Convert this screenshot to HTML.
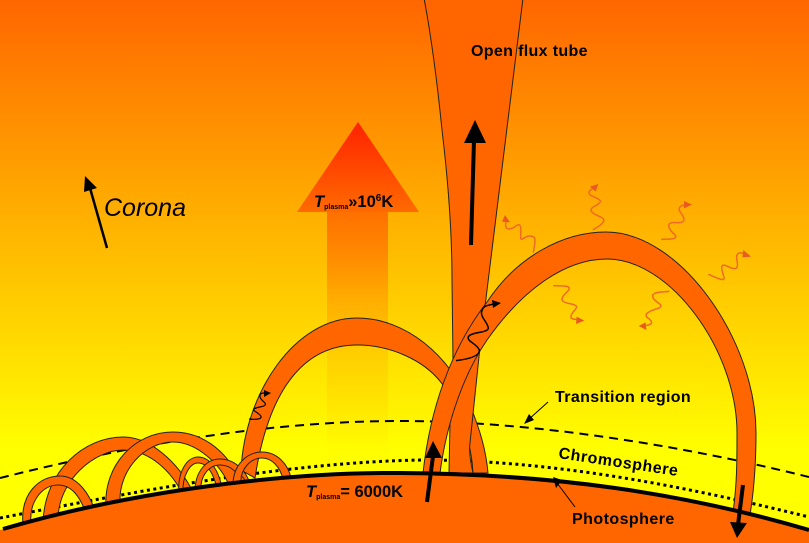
<!DOCTYPE html>
<html><head><meta charset="utf-8"><style>html,body{margin:0;padding:0;background:#ff0}svg{display:block}text{font-family:"Liberation Sans",sans-serif;font-weight:bold;fill:#000}</style></head><body>
<svg width="809" height="543" viewBox="0 0 809 543" xmlns="http://www.w3.org/2000/svg">
<defs>
<linearGradient id="bg" gradientUnits="userSpaceOnUse" x1="0" y1="0" x2="0" y2="450"><stop offset="0" stop-color="#ff6600"/><stop offset="1" stop-color="#ffff00"/></linearGradient>
<linearGradient id="head" x1="0" y1="0" x2="0" y2="1"><stop offset="0" stop-color="#ff2200"/><stop offset="1" stop-color="#ff6a00"/></linearGradient>
<linearGradient id="shaft" x1="0" y1="0" x2="0" y2="1"><stop offset="0" stop-color="#ff6600" stop-opacity=".85"/><stop offset="0.35" stop-color="#ff6600" stop-opacity=".3"/><stop offset="0.55" stop-color="#ff6600" stop-opacity=".14"/><stop offset="1" stop-color="#ff6600" stop-opacity="0"/></linearGradient>
</defs>
<rect width="809" height="543" fill="url(#bg)"/>
<rect x="327" y="212" width="61" height="250" fill="url(#shaft)"/>
<polygon points="358,122 297,212 419,212" fill="url(#head)"/>
<g fill="none" stroke="#000">
<path d="M0 478 C120 448 260 421 400 421 C530 421 680 445 809 477" stroke-width="2" stroke-dasharray="9 6"/>
<path d="M0 518 C120 495 280 462 423 460 C560 460 700 490 809 517" stroke-width="3" stroke-dasharray="3 3.5"/>
</g>
<g fill="#ff6600" stroke="#222" stroke-width="1">
<!-- small loops -->
<path d="M43 522 C45 470 85 437 123 437 C150 437 178 462 193 492 L183 495 C172 472 150 450 123 450 C95 450 58 480 58 520 Z"/>
<path d="M23 525 C20 495 38 476 60 476 C78 476 90 495 95 511 L86 513 C80 497 72 485 58 485 C42 485 29 502 31 523 Z"/>
<path d="M106 508 C103 465 135 432 173 432 C205 432 232 455 241 486 L230 488 C222 465 197 442 173 442 C145 442 118 470 120 504 Z"/>
<path d="M179 494 C177 472 187 457 198 457 C211 457 219 472 222 488 L217 489 C214 475 208 463 198 463 C190 463 182 476 183 493 Z"/>
<path d="M195 491 C195 472 206 459 220 459 C234 459 246 470 250 484 L243 485 C239 473 231 465 220 465 C209 465 200 476 201 490 Z"/>
<path d="M236 487 C235 479 237 476 240 476 C243 476 245 480 246 485 L243 485 C242 481 241 479 240 479 C238 479 238 482 238 487 Z"/>
<!-- middle arch -->
<path d="M241 470 C245 392 295 318 357 318 C405 318 450 355 470 405 C480 430 486 450 488 473 L473 473 C472 450 465 420 443 385 C425 360 390 345 357 345 C310 345 270 380 255 478 Z"/>
<path d="M233 485 C233 465 247 452 262 452 C277 452 288 464 291 478 L283 479 C280 467 272 458 262 458 C250 458 240 470 241 483 Z"/>
<!-- flux tube -->
<path d="M424 -2 C430 30 437 80 442 130 C448 180 452 230 452 280 L453 362 L450 423 L449 473 L473 473 C470 460 469 450 470 443 L480 347 L523 -2 Z"/>
<!-- big loop -->
<path d="M423 473 C430 410 450 350 487 302 C518 255 565 232 606 232 C680 232 756 340 756 433 C756 465 754 490 750 515 L733 512 C737 485 737 460 737 433 C737 350 670 259 607 259 C565 259 522 290 487 340 C465 372 447 420 440 473 Z"/>
</g>
<!-- photosphere -->
<path d="M0 530 C130 492 280 472 400 473 C550 474 680 492 809 530 L809 543 L0 543 Z" fill="#ff6600"/>
<path d="M3 529 C130 492 280 472 400 473 C550 474 680 492 809 530" fill="none" stroke="#000" stroke-width="4"/>
<!-- black arrows -->
<g stroke="#000" fill="none">
<line x1="107" y1="248" x2="90" y2="188" stroke-width="2.5"/>
<line x1="471" y1="245" x2="474" y2="140" stroke-width="4"/>
<line x1="427" y1="502" x2="433" y2="456" stroke-width="4"/>
<line x1="743" y1="485" x2="738" y2="525" stroke-width="4"/>
<path d="M548 402 L528 420" stroke-width="1"/>
<path d="M575 507 L557 483" stroke-width="1"/>
<g transform="translate(400 280) scale(.33333)" stroke-width="4.5">
<path d="M168 242 C200 238 240 230 238 210 C230 190 200 185 205 170 C215 155 260 160 265 145 C265 130 240 110 245 95 C250 75 260 78 280 72"/>
</g>
<path d="M249 419 C256 420 264 419 260 415 C256 411 250 410 256 408 C263 406 268 406 264 402 C259 398 258 393 264 393" stroke-width="1.2"/>
</g>
<g fill="#000">
<polygon points="85,176 97,188 84,192"/>
<polygon points="475,120 486,143 464,143"/>
<polygon points="433,441 442,458 425,458"/>
<polygon points="737,538 747,523 730,522"/>
<polygon points="524,424 529,414 534,420"/>
<polygon points="553,477 562,480 556,488"/>
<polygon points="501,303 492,300 493,308"/>
<polygon points="271,393 264,390 264,397"/>
</g>
<!-- wavy arrows -->
<g transform="translate(480 170) scale(.33333)">
<g fill="none" stroke="#ef6a26" stroke-width="4.5">
<path d="M160 248 C165 215 172 198 150 198 C130 198 120 222 122 195 C125 160 118 160 105 170 C90 180 72 182 78 155"/>
<path d="M338 180 C365 165 385 150 360 140 C335 130 322 120 345 108 C370 95 365 90 340 80 C320 72 325 62 340 55"/>
<path d="M543 208 C575 208 600 208 580 190 C560 170 560 155 590 158 C620 160 615 145 600 125 C592 112 605 105 615 105"/>
<path d="M685 313 C715 325 740 340 730 315 C720 285 725 280 745 290 C775 305 775 290 770 265 C768 248 780 247 790 250"/>
<path d="M220 347 C250 348 280 345 262 365 C240 385 240 395 265 400 C295 405 295 410 280 425 C265 445 275 448 290 448"/>
<path d="M568 364 C540 367 510 365 520 385 C530 400 555 405 535 415 C500 425 490 435 505 445 C525 460 510 465 495 467"/>
</g>
<g fill="#e85a20">
<polygon points="75,135 66,155 90,157"/>
<polygon points="355,42 330,50 347,65"/>
<polygon points="636,104 612,93 612,115"/>
<polygon points="813,260 790,240 787,262"/>
<polygon points="313,452 290,440 288,462"/>
<polygon points="476,468 497,457 499,480"/>
</g>
</g>
<!-- labels -->
<text x="104" y="216" style="font-weight:normal;font-style:italic;font-size:25px">Corona</text>
<text x="471" y="56" font-size="16" letter-spacing=".35">Open flux tube</text>
<text x="555" y="402" font-size="16" letter-spacing=".37">Transition region</text>
<text x="572" y="524" font-size="16" letter-spacing=".45">Photosphere</text>
<text x="558" y="458" font-size="16" letter-spacing=".6" transform="rotate(8.6 558 458)">Chromosphere</text>
<text x="314" y="207" font-size="16.5"><tspan font-style="italic">T</tspan><tspan font-size="7" dy="2">plasma</tspan><tspan dy="-2">»10</tspan><tspan font-size="10" dy="-6">6</tspan><tspan dy="6">K</tspan></text>
<text x="306" y="497" font-size="16.5"><tspan font-style="italic">T</tspan><tspan font-size="7" dy="2">plasma</tspan><tspan dy="-2">= 6000K</tspan></text>
</svg>
</body></html>
